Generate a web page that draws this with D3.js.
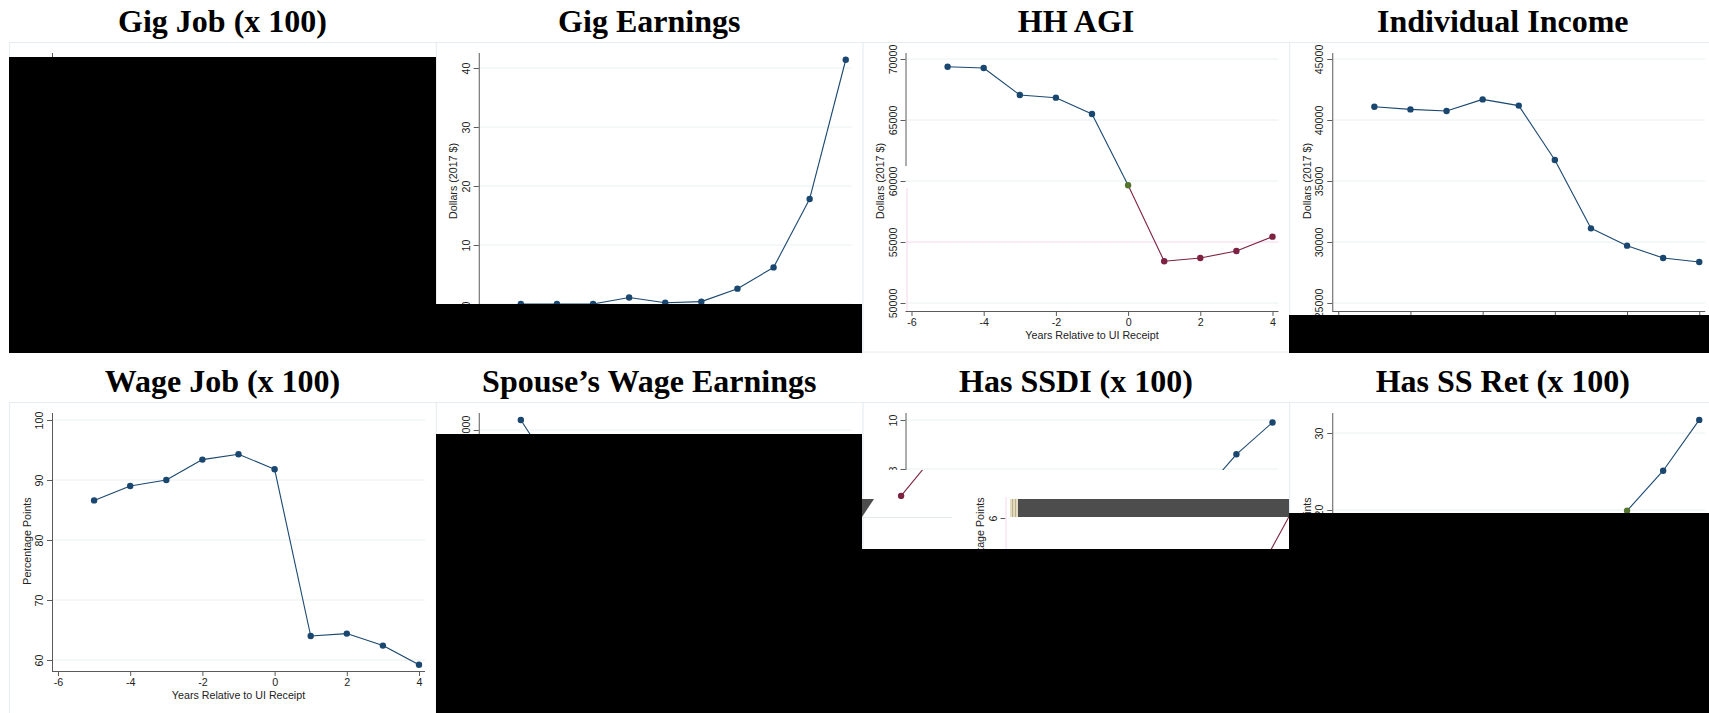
<!DOCTYPE html>
<html>
<head>
<meta charset="utf-8">
<script src="https://cdn.jsdelivr.net/npm/d3@7"></script>
<style>
   body { margin: 0; background: #fff; }
   svg { display: block; }
   text { font-family: "Liberation Sans", Arial, sans-serif; }
   .ttl { font-family: "Liberation Serif", "Times New Roman", serif; font-weight: bold; }
</style>
</head>
<body>
<svg id="fig" width="1709" height="713"></svg>
<script>
// Years relative to UI receipt
var years = [-5, -4, -3, -2, -1, 0, 1, 2, 3, 4];
var xTicks = [-6, -4, -2, 0, 2, 4];

var titles = ["Gig Job (x 100)", "Gig Earnings", "HH AGI", "Individual Income",
              "Wage Job (x 100)", "Spouse\u2019s Wage Earnings", "Has SSDI (x 100)", "Has SS Ret (x 100)"];
var yTitles = ["Percentage Points", "Dollars (2017 $)", "Dollars (2017 $)", "Dollars (2017 $)",
               "Percentage Points", "Dollars (2017 $)", "Percentage Points", "Percentage Points"];

// y tick labels of each panel
var gigJobTicks = [0, 1, 2, 3, 4];
var gigEarnTicks = [0, 10, 20, 30, 40];
var hhAgiTicks = [50000, 55000, 60000, 65000, 70000];
var indivTicks = [25000, 30000, 35000, 40000, 45000];
var wageJobTicks = [60, 70, 80, 90, 100];
var spouseTicks = [10000, 15000, 20000, 25000];
var ssdiTicks = [0, 2, 4, 6, 8, 10];
var ssRetTicks = [0, 10, 20, 30];

// series (only the readable part where the picture is blacked out)
var gigJob = [];
var gigEarnings = [0.0, 0.0, 0.0, 1.1, 0.2, 0.4, 2.6, 6.2, 17.8, 41.4];
var hhAgi = [69370, 69260, 67050, 66830, 65490, 59650, 53420, 53690, 54260, 55440];
var indivIncome = [41090, 40870, 40740, 41690, 41180, 36720, 31120, 29700, 28690, 28360];
var wageJob = [86.6, 89.0, 90.0, 93.4, 94.3, 91.8, 64.0, 64.4, 62.4, 59.2];
var spouseYears = [-5, -4];
var spouseWage = [25650, 22000];
var ssdiYears = [2, 3, 4];
var ssdi = [6.9, 8.6, 9.9];
var ssRetYears = [2, 3, 4];
var ssRet = [19.9, 25.1, 31.7];

// stray fragments of the SSDI panel that show through the broken strip
var ghostPostYears = [1, 2];
var ghostPost = [4.2, 6.9];
var ghostPreYears = [-5, -4];
var ghostPre = [6.9, 8.7];

var navy = "#1a476f", maroon = "#7d2243", green = "#55752f";
var pink = "#f4d6ee", gridCol = "#e9f0f2", axisCol = "#5a5a5a";
var colW = 426.75, rowH = 360;
var dotR = 3.2;

var svg = d3.select("#fig");
var defs = svg.append("defs");
var fmt = function(d) { return String(d); };   // plain hyphen minus, like Stata

// pixel position of the lowest and highest y tick, per panel (layout)
var yPx = [[303, 59], [304, 68], [303, 59], [303, 59], [300, 60], [300, 70], [305, 60], [304, 73]];

var panels = [
   {ticks: gigJobTicks, xs: years.slice(0, gigJob.length), ys: gigJob},
   {ticks: gigEarnTicks, xs: years, ys: gigEarnings},
   {ticks: hhAgiTicks, xs: years, ys: hhAgi, split: true},
   {ticks: indivTicks, xs: years, ys: indivIncome},
   {ticks: wageJobTicks, xs: years, ys: wageJob},
   {ticks: spouseTicks, xs: spouseYears, ys: spouseWage},
   {ticks: ssdiTicks, xs: ssdiYears, ys: ssdi, clipBottom: 470},
   {ticks: ssRetTicks, xs: ssRetYears, ys: ssRet, greenFirst: true}
];

panels.forEach(function(p, i) {
   var col = i % 4, row = Math.floor(i / 4);
   var ox = col * colW, oy = row * rowH;
   var g = svg.append("g");

   // panel frame + title
   g.append("rect")
      .attr("x", ox + 9.5).attr("y", oy + 42.5)
      .attr("width", 427).attr("height", row ? 400 : 309.5)
      .attr("fill", "#fff").attr("stroke", "#e6ecef");
   g.append("text").attr("class", "ttl")
      .attr("x", ox + 222.5).attr("y", oy + 32)
      .attr("text-anchor", "middle").attr("font-size", 32)
      .text(titles[i]);

   var plot = g.append("g");
   if (p.clipBottom) {
      defs.append("clipPath").attr("id", "clip" + i)
         .append("rect").attr("x", ox).attr("y", 0).attr("width", colW + 10).attr("height", p.clipBottom);
      plot.attr("clip-path", "url(#clip" + i + ")");
   }
   drawPlot(plot, p, ox, oy, yPx[i], i);
});

function drawPlot(plot, p, ox, oy, px, i, opt) {
   opt = opt || {};
   var x = d3.scaleLinear().domain([-6, 4]).range([ox + 58, ox + 419]);
   var y = d3.scaleLinear().domain(d3.extent(p.ticks)).range([oy + px[0], oy + px[1]]);

   if (!opt.ghost) {
      plot.append("g").selectAll("line")
         .data(p.ticks).enter().append("line")
         .attr("x1", ox + 52).attr("x2", ox + 425)
         .attr("y1", function(d) { return y(d); }).attr("y2", function(d) { return y(d); })
         .attr("stroke", function(d) { return (p.split && d == 55000) ? pink : gridCol; });
   }

   // y axis, labels turned like the Stata output
   var ya = plot.append("g")
      .attr("transform", "translate(" + (ox + 52) + ",0)")
      .call(d3.axisLeft(y).tickValues(p.ticks).tickSize(5).tickFormat(fmt));
   ya.select(".domain").remove();
   ya.selectAll("line").attr("stroke", axisCol);
   ya.selectAll("text")
      .attr("transform", "rotate(-90)")
      .attr("x", 0).attr("y", -9).attr("dy", null)
      .attr("text-anchor", "middle")
      .attr("font-size", 10.7).attr("fill", "#222")
      .attr("font-family", "Liberation Sans, Arial, sans-serif");

   if (p.split) {
      // lower half of this axis came out pink in the source
      plot.append("line").attr("x1", ox + 52.5).attr("x2", ox + 52.5)
         .attr("y1", oy + 53).attr("y2", oy + 166).attr("stroke", axisCol);
      plot.append("line").attr("x1", ox + 53.5).attr("x2", ox + 53.5)
         .attr("y1", oy + 188).attr("y2", oy + 311).attr("stroke", pink);
   } else {
      plot.append("line").attr("x1", ox + 52.5).attr("x2", ox + 52.5)
         .attr("y1", oy + 53).attr("y2", oy + 311).attr("stroke", opt.ghost ? pink : axisCol);
   }

   plot.append("text")
      .attr("transform", "translate(" + (ox + 30.5) + "," + (oy + 181) + ") rotate(-90)")
      .attr("text-anchor", "middle").attr("font-size", 10.7).attr("fill", "#222")
      .text(yTitles[i]);

   if (!opt.ghost) {
      var xa = plot.append("g")
         .attr("transform", "translate(0," + (oy + 311) + ")")
         .call(d3.axisBottom(x).tickValues(xTicks).tickSize(5).tickFormat(fmt));
      xa.select(".domain").remove();
      xa.selectAll("line").attr("stroke", axisCol);
      xa.selectAll("text").attr("y", 7).attr("font-size", 10.7).attr("fill", "#222")
         .attr("font-family", "Liberation Sans, Arial, sans-serif");
      plot.append("line").attr("x1", ox + 52).attr("x2", ox + 425)
         .attr("y1", oy + 311.5).attr("y2", oy + 311.5).attr("stroke", axisCol);
      plot.append("text")
         .attr("x", ox + 238.5).attr("y", oy + 338.5)
         .attr("text-anchor", "middle").attr("font-size", 10.7).attr("fill", "#222")
         .text("Years Relative to UI Receipt");
   }

   var pts = p.xs.map(function(d, k) { return [d, p.ys[k]]; });
   var lineCol = opt.color || navy;
   plot.append("g").selectAll("line")
      .data(d3.pairs(pts)).enter().append("line")
      .attr("x1", function(d) { return x(d[0][0]); }).attr("y1", function(d) { return y(d[0][1]); })
      .attr("x2", function(d) { return x(d[1][0]); }).attr("y2", function(d) { return y(d[1][1]); })
      .attr("stroke", function(d) { return (p.split && d[0][0] >= 0) ? maroon : lineCol; })
      .attr("stroke-width", 1.1);
   plot.append("g").selectAll("circle")
      .data(pts).enter().append("circle")
      .attr("cx", function(d) { return x(d[0]); }).attr("cy", function(d) { return y(d[1]); })
      .attr("r", dotR)
      .attr("fill", function(d, k) {
         if (p.split) return d[0] < 0 ? navy : (d[0] == 0 ? green : maroon);
         if (p.greenFirst && k == 0) return green;
         return lineCol;
      });
}

// the broken strip in the SSDI panel: copies of the panel shifted sideways
var ox7 = 2 * colW, oy7 = rowH;
defs.append("clipPath").attr("id", "ghostA")
   .append("rect").attr("x", 862).attr("y", 497).attr("width", 427).attr("height", 52);
var gA = svg.append("g").attr("clip-path", "url(#ghostA)").append("g");
drawPlot(gA, {ticks: ssdiTicks, xs: ghostPostYears, ys: ghostPost}, ox7 + 100, oy7, yPx[6], 6, {ghost: true, color: maroon});

defs.append("clipPath").attr("id", "ghostB")
   .append("rect").attr("x", 862).attr("y", 470).attr("width", 140).attr("height", 29);
var gB = svg.append("g").attr("clip-path", "url(#ghostB)");
var xB = d3.scaleLinear().domain([-6, 4]).range([ox7 - 46.5 + 58, ox7 - 46.5 + 419]);
var yB = d3.scaleLinear().domain(d3.extent(ssdiTicks)).range([oy7 + yPx[6][0], oy7 + yPx[6][1]]);
gB.append("path")
   .attr("d", d3.line().x(function(d, k) { return xB(ghostPreYears[k]); }).y(function(d) { return yB(d); })(ghostPre))
   .attr("fill", "none").attr("stroke", maroon).attr("stroke-width", 1.1);
gB.append("circle").attr("cx", xB(ghostPreYears[0])).attr("cy", yB(ghostPre[0]))
   .attr("r", dotR).attr("fill", maroon);

// leftover bars of the broken strip
var junk = svg.append("g");
junk.append("line").attr("x1", 862).attr("x2", 952).attr("y1", 517.5).attr("y2", 517.5).attr("stroke", "#e4eaec");
junk.append("rect").attr("x", 1018).attr("y", 499).attr("width", 271).attr("height", 18).attr("fill", "#4d4d4d");
junk.append("rect").attr("x", 1010).attr("y", 499).attr("width", 8).attr("height", 18).attr("fill", "#e3dcc2");
junk.append("rect").attr("x", 1012).attr("y", 499).attr("width", 1).attr("height", 18).attr("fill", "#b9ae86");
junk.append("rect").attr("x", 1015).attr("y", 499).attr("width", 1).attr("height", 18).attr("fill", "#b9ae86");
junk.append("path").attr("d", "M862,499L874,499L862,517Z").attr("fill", "#4d4d4d");

// blacked-out areas of the source image
var masks = [
   [9, 57, 427, 296],
   [427, 304, 435, 49],
   [1289, 315, 420, 38],
   [436, 434, 426, 279],
   [862, 549, 427, 164],
   [1289, 513, 420, 200]
];
svg.append("g").selectAll("rect")
   .data(masks).enter().append("rect")
   .attr("x", function(d) { return d[0]; }).attr("y", function(d) { return d[1]; })
   .attr("width", function(d) { return d[2]; }).attr("height", function(d) { return d[3]; })
   .attr("fill", "#000");
</script>
</body>
</html>
